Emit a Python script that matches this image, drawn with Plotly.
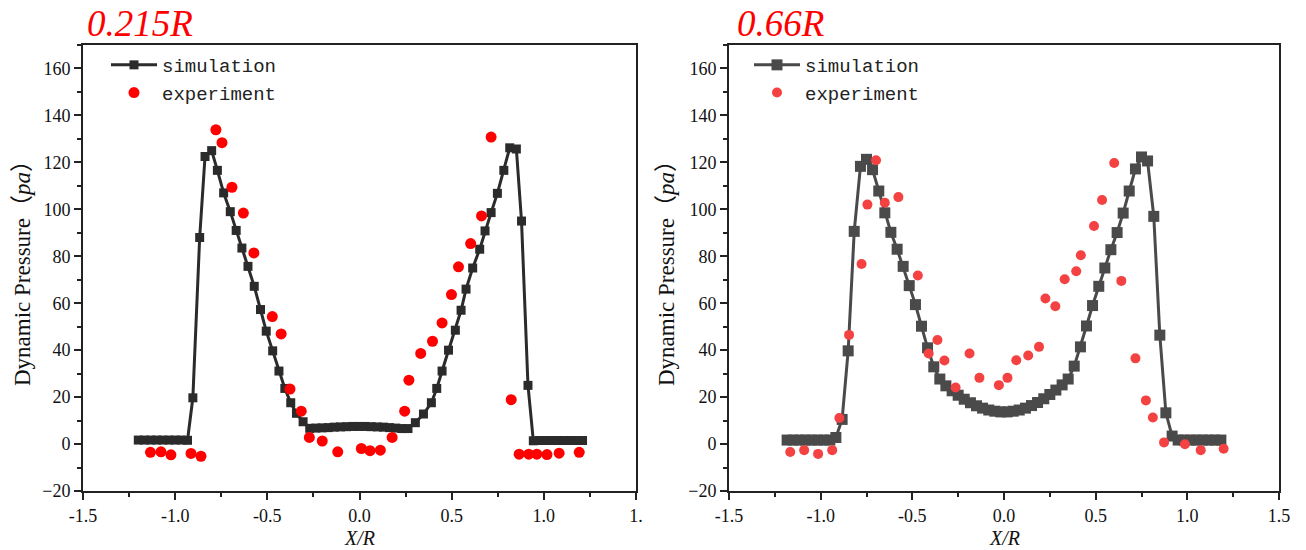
import plotly.graph_objects as go

# ---------------- 0.215R ----------------
sim_x_a = [-1.200, -1.167, -1.133, -1.100, -1.067, -1.033, -1.000, -0.967, -0.933,
           -0.904, -0.867, -0.838, -0.802, -0.771, -0.737, -0.701, -0.669, -0.638,
           -0.605, -0.571, -0.537, -0.506, -0.471, -0.437, -0.405, -0.373, -0.342,
           -0.306, -0.270, -0.237, -0.203, -0.170, -0.137, -0.103, -0.070, -0.037,
           -0.003, 0.030, 0.063, 0.097, 0.130, 0.163, 0.197, 0.230, 0.263,
           0.303, 0.347, 0.390, 0.419, 0.448, 0.483, 0.520, 0.551, 0.578,
           0.614, 0.652, 0.681, 0.714, 0.748, 0.783, 0.815, 0.851, 0.879,
           0.914, 0.943, 0.977, 1.010, 1.043, 1.077, 1.110, 1.143, 1.177, 1.210]
sim_y_a = [1.7, 1.7, 1.7, 1.7, 1.7, 1.7, 1.7, 1.7, 1.6,
           19.7, 88.0, 122.5, 125.0, 116.6, 107.0, 99.0, 91.0, 83.5,
           75.7, 67.2, 57.3, 48.1, 39.7, 31.1, 23.7, 17.6, 13.1,
           9.5, 6.7, 6.8, 6.9, 7.0, 7.2, 7.3, 7.4, 7.5,
           7.5, 7.5, 7.4, 7.3, 7.2, 7.0, 6.8, 6.6, 6.6,
           9.1, 12.8, 17.6, 23.7, 31.1, 40.0, 48.5, 57.0, 66.0,
           75.0, 83.0, 90.8, 98.6, 106.8, 116.6, 126.2, 125.7, 95.0,
           25.0, 1.4, 1.5, 1.5, 1.5, 1.5, 1.5, 1.5, 1.5, 1.5]

exp_x_a = [-1.134, -1.077, -1.023, -0.914, -0.860, -0.779, -0.746, -0.692, -0.630,
           -0.573, -0.473, -0.425, -0.377, -0.316, -0.272, -0.202, -0.118, 0.010,
           0.057, 0.113, 0.177, 0.245, 0.268, 0.332, 0.396, 0.448, 0.499,
           0.537, 0.603, 0.662, 0.714, 0.823, 0.866, 0.918, 0.962, 1.017,
           1.083, 1.192]
exp_y_a = [-3.5, -3.3, -4.6, -4.0, -5.2, 133.9, 128.4, 109.4, 98.4,
           81.4, 54.3, 46.9, 23.4, 14.0, 2.8, 1.3, -3.3, -1.9,
           -2.8, -2.6, 2.8, 14.0, 27.2, 38.6, 43.8, 51.6, 63.7,
           75.5, 85.4, 97.2, 130.8, 18.9, -4.3, -4.3, -4.3, -4.5,
           -3.9, -3.5]

# ---------------- 0.66R ----------------
sim_x_b = [-1.183, -1.150, -1.117, -1.083, -1.050, -1.017, -0.983, -0.950,
           -0.917, -0.883, -0.850, -0.817, -0.783, -0.750, -0.717, -0.683,
           -0.650, -0.617, -0.583, -0.550, -0.517, -0.483, -0.450, -0.417,
           -0.383, -0.350, -0.317, -0.283, -0.250, -0.217, -0.183, -0.150,
           -0.117, -0.083, -0.050, -0.017, 0.017, 0.050, 0.083, 0.117,
           0.150, 0.183, 0.217, 0.250, 0.283, 0.317, 0.350, 0.383,
           0.417, 0.450, 0.483, 0.517, 0.550, 0.583, 0.617, 0.650,
           0.683, 0.717, 0.750, 0.783, 0.817, 0.850, 0.883, 0.917,
           0.950, 0.983, 1.017, 1.050, 1.083, 1.117, 1.150, 1.183]
sim_y_b = [1.7, 1.7, 1.7, 1.7, 1.7, 1.7, 1.7, 1.7,
           2.8, 10.5, 39.7, 90.6, 118.3, 121.3, 116.9, 107.8,
           98.5, 90.2, 83.0, 75.7, 67.5, 59.4, 50.2, 41.0,
           32.9, 27.7, 24.8, 22.7, 20.8, 19.1, 17.6, 16.3,
           15.3, 14.5, 14.0, 13.7, 13.7, 14.0, 14.5, 15.3,
           16.4, 17.7, 19.3, 21.1, 23.0, 25.2, 27.7, 33.2,
           41.4, 50.3, 59.0, 67.2, 75.0, 82.8, 90.1, 98.4,
           107.8, 117.2, 122.3, 120.6, 97.0, 46.4, 13.3, 3.4,
           1.7, 1.7, 1.7, 1.7, 1.7, 1.7, 1.7, 1.7]

exp_x_b = [-1.166, -1.090, -1.014, -0.937, -0.898, -0.845, -0.777, -0.745, -0.698,
           -0.650, -0.576, -0.470, -0.411, -0.363, -0.325, -0.264, -0.188, -0.134,
           -0.028, 0.019, 0.067, 0.132, 0.191, 0.226, 0.280, 0.331, 0.394,
           0.419, 0.491, 0.535, 0.601, 0.640, 0.717, 0.774, 0.812, 0.873,
           0.987, 1.073, 1.198]
exp_y_b = [-3.4, -2.6, -4.2, -2.6, 11.1, 46.5, 76.7, 102.0, 120.9,
           102.8, 105.2, 71.8, 38.6, 44.3, 35.6, 24.1, 38.6, 28.2,
           25.1, 28.2, 35.7, 37.7, 41.4, 62.0, 58.7, 70.2, 73.6,
           80.4, 92.9, 104.0, 119.7, 69.5, 36.5, 18.6, 11.3, 0.7,
           -0.1, -2.6, -2.0]

x_ticks = [-1.5, -1.0, -0.5, 0.0, 0.5, 1.0, 1.5]
x_ticktext_a = ["-1.5", "-1.0", "-0.5", "0.0", "0.5", "1.0", "1."]
x_ticktext_b = ["-1.5", "-1.0", "-0.5", "0.0", "0.5", "1.0", "1.5"]
y_ticks = [-20, 0, 20, 40, 60, 80, 100, 120, 140, 160]
panel_titles = ["0.215R", "0.66R"]

SERIF = "Liberation Serif, Times New Roman, Noto Sans CJK SC, serif"
MONO = "Liberation Mono, Courier New, monospace"

fig = go.Figure()

fig.add_trace(go.Scatter(x=sim_x_a, y=sim_y_a, mode="lines+markers", name="simulation",
                         line=dict(color="#2b2b2b", width=3),
                         marker=dict(symbol="square", size=9, color="#2b2b2b"),
                         xaxis="x", yaxis="y", legend="legend"))
fig.add_trace(go.Scatter(x=exp_x_a, y=exp_y_a, mode="markers", name="experiment",
                         marker=dict(symbol="circle", size=11, color="#ff0000"),
                         xaxis="x", yaxis="y", legend="legend"))
fig.add_trace(go.Scatter(x=sim_x_b, y=sim_y_b, mode="lines+markers", name="simulation",
                         line=dict(color="#4a4a4a", width=3),
                         marker=dict(symbol="square", size=11, color="#4a4a4a"),
                         xaxis="x2", yaxis="y2", legend="legend2"))
fig.add_trace(go.Scatter(x=exp_x_b, y=exp_y_b, mode="markers", name="experiment",
                         marker=dict(symbol="circle", size=10, color="#f44242"),
                         xaxis="x2", yaxis="y2", legend="legend2"))

axis_common = dict(
    showline=True, linewidth=2, linecolor="#222222", mirror=True,
    showgrid=False, zeroline=False,
    ticks="outside", ticklen=7, tickwidth=1.5, tickcolor="#222222",
    tickfont=dict(family=SERIF, size=18, color="#111111"),
)
xa = dict(axis_common, range=[-1.5, 1.5], tickvals=x_ticks,
          minor=dict(ticks="outside", ticklen=4, tickwidth=1.5, tickcolor="#222222", dtick=0.25, tick0=0))
ya = dict(axis_common, range=[-20, 170], tickvals=y_ticks,
          minor=dict(ticks="outside", ticklen=4, tickwidth=1.5, tickcolor="#222222", dtick=10, tick0=0))

L, R, T, B = 83, 27, 45, 59
W, H = 1306, 550
pw = W - L - R
ph = H - T - B

def px_x(p):
    return (p - L) / pw

def px_y(p):
    return (H - B - p) / ph

legend_style = dict(xanchor="left", yanchor="top",
                    font=dict(family=MONO, size=19, color="#222222"),
                    bgcolor="rgba(0,0,0,0)", tracegroupgap=0, itemwidth=46)

fig.update_layout(
    width=W, height=H,
    margin=dict(l=L, r=R, t=T, b=B),
    paper_bgcolor="white", plot_bgcolor="white",
    xaxis=dict(xa, domain=[0, px_x(636)], ticktext=x_ticktext_a, anchor="y"),
    yaxis=dict(ya, domain=[0, 1], anchor="x"),
    xaxis2=dict(xa, domain=[px_x(729), 1], ticktext=x_ticktext_b, anchor="y2"),
    yaxis2=dict(ya, domain=[0, 1], anchor="x2"),
    legend=dict(legend_style, x=px_x(106), y=px_y(46)),
    legend2=dict(legend_style, x=px_x(749), y=px_y(46)),
    showlegend=True,
)

annotations = []
for cx, title in [(85, panel_titles[0]), (735, panel_titles[1])]:
    annotations.append(dict(text=f"<i>{title}</i>", xref="paper", yref="paper",
                            x=px_x(cx), y=px_y(24), xanchor="left", yanchor="middle",
                            showarrow=False, font=dict(family=SERIF, size=37, color="#ff0000")))
for cx in [22, 666]:
    annotations.append(dict(text="Dynamic Pressure（<i>pa</i>）", xref="paper", yref="paper",
                            x=px_x(cx), y=px_y(268), xanchor="center", yanchor="middle",
                            textangle=-90, showarrow=False,
                            font=dict(family=SERIF, size=23, color="#111111")))
for cx in [359, 1004]:
    annotations.append(dict(text="<i>X/R</i>", xref="paper", yref="paper",
                            x=px_x(cx), y=px_y(550), xanchor="center", yanchor="bottom",
                            borderpad=0, showarrow=False,
                            font=dict(family=SERIF, size=20, color="#111111")))
fig.update_layout(annotations=annotations)

fig.write_html("out.html")
